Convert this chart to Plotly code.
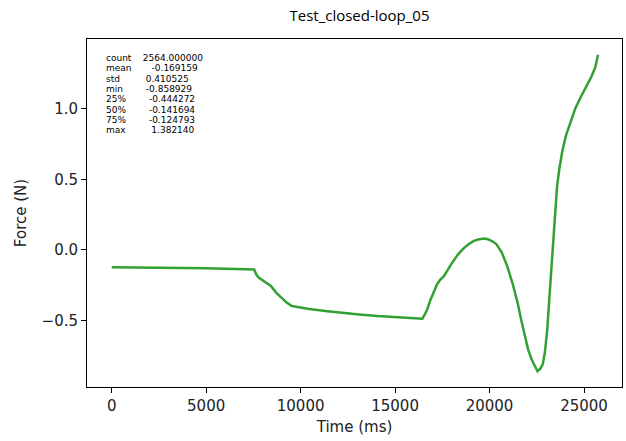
import plotly.graph_objects as go

# Data
time_ms = [0, 2500, 5000, 7540, 7649, 7778, 7964, 8149, 8427, 8704, 8982, 9260,
           9538, 9816, 10370, 11300, 12220, 13100, 14075, 15200, 16445, 16575,
           16705, 16853, 17038, 17224, 17409, 17594, 17964, 18335, 18612, 18890,
           19168, 19445, 19724, 19910, 20150, 20370, 20650, 20928, 21205, 21483,
           21668, 21854, 22039, 22224, 22409, 22539, 22687, 22816, 22928, 23057,
           23186, 23335, 23465, 23576, 23706, 23854, 24039, 24261, 24539, 24816,
           25094, 25372, 25594, 25744]
force_n = [-0.123, -0.126, -0.130, -0.139, -0.173, -0.196, -0.213, -0.231, -0.255,
           -0.302, -0.337, -0.373, -0.397, -0.404, -0.416, -0.432, -0.446, -0.457,
           -0.468, -0.478, -0.487, -0.456, -0.420, -0.361, -0.302, -0.243, -0.208,
           -0.184, -0.102, -0.031, 0.009, 0.040, 0.064, 0.076, 0.080, 0.076, 0.061,
           0.040, -0.019, -0.113, -0.231, -0.373, -0.491, -0.609, -0.704, -0.775,
           -0.827, -0.859, -0.841, -0.810, -0.727, -0.562, -0.302, 0.005, 0.265,
           0.454, 0.584, 0.702, 0.808, 0.902, 1.002, 1.080, 1.151, 1.222, 1.293,
           1.382]

stat_labels = ["count", "mean", "std", "min", "25%", "50%", "75%", "max"]
stat_values = [2564.000000, -0.169159, 0.410525, -0.858929, -0.444272,
               -0.141694, -0.124793, 1.382140]

title_text = "Test_closed-loop_05"
x_title = "Time (ms)"
y_title = "Force (N)"

W, H = 626, 441
L, R, T, B = 87, 4, 39, 54
plot_h = H - T - B

fig = go.Figure()
fig.add_trace(go.Scatter(x=time_ms, y=force_n, mode="lines",
                         line=dict(color="#33a033", width=2.5),
                         showlegend=False, hoverinfo="skip"))

# describe() text block, one line per annotation
for i, (lab, val) in enumerate(zip(stat_labels, stat_values)):
    line = (lab.ljust(5) + f"{val:.6f}".rjust(15)).replace(" ", "\u00a0")
    ypx = 58 + i * 10.3
    fig.add_annotation(x=(104 - L) / (W - L - R), y=(H - B - ypx) / plot_h,
                       xref="paper", yref="paper", text=line, showarrow=False,
                       xanchor="left", yanchor="middle",
                       font=dict(family="DejaVu Sans", size=9, color="black"))

axis_common = dict(showline=True, linecolor="black", linewidth=1, mirror=True,
                   ticks="outside", ticklen=5, tickcolor="black", tickwidth=1,
                   showgrid=False, zeroline=False,
                   tickfont=dict(family="DejaVu Sans", size=15, color="#222"))

fig.update_layout(
    width=W, height=H,
    margin=dict(l=L, r=R, t=T, b=B, pad=0),
    paper_bgcolor="white", plot_bgcolor="white",
    title=dict(text=title_text, x=(L + (W - L - R) / 2) / W + 0.008, xanchor="center",
               y=1 - 16 / H, yanchor="middle",
               font=dict(family="Open Sans", size=15, color="black")),
    xaxis=dict(range=[-1307, 27011], tickmode="linear", tick0=0, dtick=5000,
               tickformat="d",
               title=dict(text=x_title, standoff=7,
                          font=dict(family="DejaVu Sans", size=15, color="#222")),
               **axis_common),
    yaxis=dict(range=[-0.971, 1.494], tickmode="linear", tick0=0, dtick=0.5,
               tickformat=".1f",
               title=dict(text=y_title, standoff=11,
                          font=dict(family="DejaVu Sans", size=15, color="#222")),
               **axis_common),
)

fig.write_html("out.html")
